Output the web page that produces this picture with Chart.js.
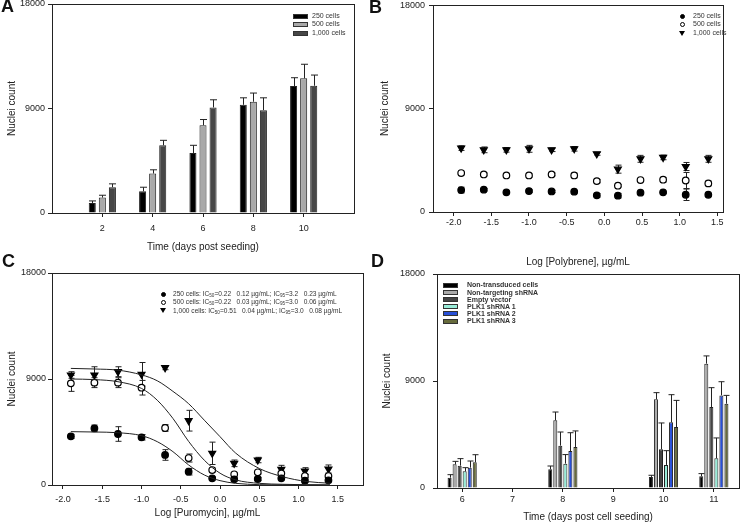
<!DOCTYPE html>
<html>
<head>
<title>Nuclei count panels</title>
<script src="https://cdn.jsdelivr.net/npm/chart.js"></script>
<style>
body { margin: 0; background: #fff; font-family: 'Liberation Sans', Arial, sans-serif; }
#fig { position: relative; width: 741px; height: 523px; overflow: hidden; }
#fig canvas { position: absolute; }
.tag { position: absolute; font-weight: bold; font-size: 18px; line-height: 18px; color: #111; }
.lt { position: absolute; white-space: pre; color: #333; }
.lt sub { font-size: 0.7em; vertical-align: -1px; line-height: 0; }
.mk { position: absolute; box-sizing: border-box; }
</style>
</head>
<body>
<div id="fig">
  <canvas id="cA" width="370" height="260" style="left:0;top:0"></canvas>
  <canvas id="cB" width="371" height="272" style="left:370px;top:0"></canvas>
  <canvas id="cC" width="370" height="263" style="left:0;top:260px"></canvas>
  <canvas id="cD" width="371" height="263" style="left:370px;top:260px"></canvas>
  <div class="tag" style="left:1px;top:-3px">A</div>
  <div class="tag" style="left:369px;top:-2px">B</div>
  <div class="tag" style="left:2px;top:252px">C</div>
  <div class="tag" style="left:371px;top:252px">D</div>
</div>
<script>
// shared y ticks
const yTicks = [0, 9000, 18000];

// A - cells seeded vs time
const daysA = [2, 4, 6, 8, 10];
const seriesA = ['250 cells', '500 cells', '1,000 cells'];
const a250 = [860, 1870, 5160, 9320, 10930];
const a500 = [1330, 3400, 7560, 9580, 11600];
const a1000 = [2220, 5830, 9090, 8860, 10960];
const a250Err = [180, 350, 670, 600, 720];
const a500Err = [200, 320, 490, 750, 1210];
const a1000Err = [290, 430, 660, 1060, 920];

// B / C - log dose
const logDose = [-1.9, -1.6, -1.3, -1.0, -0.7, -0.4, -0.1, 0.18, 0.48, 0.78, 1.08, 1.38];
const doseTicks = [-2.0, -1.5, -1.0, -0.5, 0.0, 0.5, 1.0, 1.5];

const b250 = [1910, 1940, 1710, 1820, 1790, 1770, 1450, 1420, 1680, 1710, 1500, 1500];
const b250Err = [250, 100, 100, 120, 100, 100, 150, 200, 100, 100, 500, 100];
const b500 = [3390, 3270, 3180, 3180, 3270, 3180, 2690, 2290, 2780, 2810, 2740, 2490];
const b500Err = [150, 120, 120, 130, 120, 200, 150, 100, 120, 200, 700, 200];
const b1000 = [5560, 5410, 5410, 5500, 5410, 5500, 5060, 3730, 4630, 4750, 3960, 4630];
const b1000Err = [200, 250, 200, 300, 150, 200, 120, 350, 300, 200, 350, 300];

const c250 = [4130, 4810, 4330, 4050, 2550, 1130, 570, 480, 510, 570, 370, 400];
const c250Err = [170, 280, 620, 230, 450, 280, 140, 140, 140, 140, 140, 140];
const c500 = [8630, 8690, 8690, 8260, 4840, 2290, 1270, 910, 1080, 990, 760, 760];
const c500Err = [680, 420, 420, 620, 280, 340, 170, 140, 140, 140, 140, 140];
const c1000 = [9340, 9340, 9620, 9400, 9960, 5460, 2690, 1840, 2120, 1330, 1190, 1360];
const c1000Err = [280, 700, 420, 1000, 170, 880, 950, 280, 230, 340, 280, 340];

// fitted curves
const fitX = [-1.9, -1.6, -1.3, -1.0, -0.8, -0.6, -0.4, -0.2, 0.0, 0.2, 0.5, 0.8, 1.1, 1.4];
const fit250 = [4530, 4500, 4440, 4190, 3680, 2830, 1700, 850, 370, 140, 30, 10, 5, 0];
const fit500 = [9000, 8950, 8770, 8200, 7200, 5650, 3700, 2100, 1000, 430, 140, 60, 20, 10];
const fit1000 = [9900, 9850, 9750, 9350, 8850, 7950, 6900, 5500, 4100, 2700, 1400, 700, 300, 150];

const cLabels = [
  '250 cells: IC<sub>50</sub>=0.22   0.12 µg/mL; IC<sub>95</sub>=3.2   0.23 µg/mL',
  '500 cells: IC<sub>50</sub>=0.22   0.03 µg/mL; IC<sub>95</sub>=3.0   0.06 µg/mL',
  '1,000 cells: IC<sub>50</sub>=0.51   0.04 µg/mL; IC<sub>95</sub>=3.0   0.08 µg/mL'
];

// D - shRNA knockdown
const daysD = ['6', '7', '8', '9', '10', '11'];
const seriesD = ['Non-transduced cells', 'Non-targeting shRNA', 'Empty vector', 'PLK1 shRNA 1', 'PLK1 shRNA 2', 'PLK1 shRNA 3'];
const dNon = [870, null, 1570, null, 930, 980];
const dNonErr = [250, null, 280, null, 140, 230];
const dNT = [1990, null, 5690, null, 7460, 10460];
const dNTErr = [250, null, 700, null, 560, 650];
const dEmpty = [1880, null, 3560, null, 3250, 6810];
const dEmptyErr = [590, null, 1150, null, 2220, 1630];
const dPlk1 = [1400, null, 2050, null, 1940, 2500];
const dPlk1Err = [310, null, 760, null, 1200, 1710];
const dPlk2 = [1710, null, 3110, null, 5520, 7790];
const dPlk2Err = [560, null, 1540, null, 2330, 1150];
const dPlk3 = [2160, null, 3450, null, 5130, 7090];
const dPlk3Err = [640, null, 1350, null, 2240, 700];

const ink = '#222';
Chart.defaults.font.family = "'Liberation Sans', Arial, sans-serif";
Chart.defaults.color = ink;

// error bars drawn from each dataset's err array
const errorBars = {
  id: 'errorBars',
  beforeDatasetsDraw(chart) {
    const ctx = chart.ctx;
    const ys = chart.scales.y;
    chart.data.datasets.forEach((ds, di) => {
      if (!ds.err) return;
      const meta = chart.getDatasetMeta(di);
      ctx.save();
      ctx.strokeStyle = ink;
      ctx.lineWidth = 1;
      meta.data.forEach((el, i) => {
        const raw = ds.data[i];
        const v = raw && typeof raw === 'object' ? raw.y : raw;
        const e = ds.err[i];
        if (v == null || e == null) return;
        const top = ys.getPixelForValue(v + e);
        const bot = ds.bothWays ? ys.getPixelForValue(v - e) : el.y;
        const x = Math.round(el.x) + 0.5;
        const c = ds.cap / 2;
        ctx.beginPath();
        ctx.moveTo(x, top); ctx.lineTo(x, bot);
        ctx.moveTo(x - c, top); ctx.lineTo(x + c, top);
        if (ds.bothWays) { ctx.moveTo(x - c, bot); ctx.lineTo(x + c, bot); }
        ctx.stroke();
      });
      ctx.restore();
    });
  }
};

// box around the plot area
const frame = {
  id: 'frame',
  afterDatasetsDraw(chart) {
    const a = chart.chartArea;
    const ctx = chart.ctx;
    ctx.save();
    ctx.strokeStyle = ink;
    ctx.lineWidth = 1;
    ctx.strokeRect(Math.round(a.left) + 0.5, Math.round(a.top) + 0.5,
      Math.round(a.right - a.left), Math.round(a.bottom - a.top));
    ctx.restore();
  }
};
Chart.register(errorBars, frame);

function yAxis(width, pad, titlePad) {
  return {
    min: 0, max: 18000,
    afterBuildTicks: s => { s.ticks = yTicks.map(v => ({ value: v })); },
    afterFit: s => { s.width = width; s.paddingTop = 0; s.paddingBottom = 0; },
    border: { color: ink },
    grid: { drawOnChartArea: false, tickLength: 4, color: ink },
    ticks: { padding: pad, font: { size: 9 }, callback: v => String(v) },
    title: { display: true, text: 'Nuclei count', font: { size: 10 }, padding: { top: titlePad, bottom: 0 } }
  };
}

function xLinear(min, max, tickVals, label, height, pad, titlePad, fmt) {
  return {
    type: 'linear', min: min, max: max, offset: false,
    afterBuildTicks: s => { s.ticks = tickVals.map(v => ({ value: v })); },
    afterFit: s => { s.height = height; s.paddingLeft = 0; s.paddingRight = 0; },
    border: { color: ink },
    grid: { drawOnChartArea: false, offset: false, tickLength: 4, color: ink },
    ticks: { padding: pad, font: { size: 9 }, maxRotation: 0, callback: fmt },
    title: { display: true, text: label, font: { size: 10 }, padding: { top: 0, bottom: titlePad } }
  };
}

const base = {
  responsive: false,
  animation: false,
  events: [],
  plugins: { legend: { display: false }, tooltip: { enabled: false } }
};

function barSet(label, xs, vals, err, color, cap) {
  return {
    label: label,
    data: xs ? xs.map((d, i) => ({ x: d, y: vals[i] })) : vals,
    err: err, cap: cap,
    backgroundColor: color, borderColor: ink, borderWidth: 1
  };
}

function dotSet(label, vals, err, style) {
  const s = {
    label: label,
    data: logDose.map((d, i) => ({ x: d, y: vals[i] })),
    err: err, cap: 6, bothWays: true,
    pointStyle: style === 'tri' ? 'triangle' : 'circle',
    rotation: style === 'tri' ? 180 : 0,
    pointRadius: style === 'tri' ? 4 : 3.3,
    pointBackgroundColor: style === 'ring' ? '#fff' : '#000',
    pointBorderColor: '#000', pointBorderWidth: 1.2,
    showLine: false
  };
  return s;
}

function fitSet(vals) {
  return {
    type: 'line',
    data: fitX.map((d, i) => ({ x: d, y: vals[i] })),
    borderColor: ink, borderWidth: 1, pointRadius: 0,
    cubicInterpolationMode: 'monotone', fill: false
  };
}

// A
new Chart(document.getElementById('cA'), {
  type: 'bar',
  data: { datasets: [
    barSet(seriesA[0], daysA, a250, a250Err, '#000000', 7),
    barSet(seriesA[1], daysA, a500, a500Err, '#a9a9a9', 7),
    barSet(seriesA[2], daysA, a1000, a1000Err, '#474747', 7)
  ] },
  options: Object.assign({}, base, {
    layout: { padding: { top: 4, right: 16, bottom: 0, left: 0 } },
    datasets: { bar: { categoryPercentage: 0.6, barPercentage: 0.7 } },
    scales: {
      x: xLinear(0, 12, daysA, 'Time (days post seeding)', 47, 6, 7, v => String(v)),
      y: yAxis(52, 3, 6)
    }
  })
});

// B
new Chart(document.getElementById('cB'), {
  type: 'scatter',
  data: { datasets: [
    dotSet(seriesA[0], b250, b250Err, 'dot'),
    dotSet(seriesA[1], b500, b500Err, 'ring'),
    dotSet(seriesA[2], b1000, b1000Err, 'tri')
  ] },
  options: Object.assign({}, base, {
    layout: { padding: { top: 4, right: 18, bottom: 0, left: 0 } },
    scales: {
      x: xLinear(-2.274, 1.575, doseTicks, 'Log [Polybrene], µg/mL', 60, 1, 4, v => v.toFixed(1)),
      y: yAxis(63, 4, 9)
    }
  })
});

// C
new Chart(document.getElementById('cC'), {
  type: 'scatter',
  data: { datasets: [
    fitSet(fit250), fitSet(fit500), fitSet(fit1000),
    dotSet(seriesA[0], c250, c250Err, 'dot'),
    dotSet(seriesA[1], c500, c500Err, 'ring'),
    dotSet(seriesA[2], c1000, c1000Err, 'tri')
  ] },
  options: Object.assign({}, base, {
    layout: { padding: { top: 13, right: 7, bottom: 0, left: 0 } },
    scales: {
      x: xLinear(-2.14, 1.82, doseTicks, 'Log [Puromycin], µg/mL', 38, 5, 4, v => v.toFixed(1)),
      y: yAxis(52, 2, 6)
    }
  })
});

// D
const dColors = ['#000000', '#aaaaaa', '#444444', '#98ecd8', '#2850d8', '#676b3c'];
const dVals = [dNon, dNT, dEmpty, dPlk1, dPlk2, dPlk3];
const dErrs = [dNonErr, dNTErr, dEmptyErr, dPlk1Err, dPlk2Err, dPlk3Err];
new Chart(document.getElementById('cD'), {
  type: 'bar',
  data: {
    labels: daysD,
    datasets: seriesD.map((s, i) => barSet(s, null, dVals[i], dErrs[i], dColors[i], 6))
  },
  options: Object.assign({}, base, {
    layout: { padding: { top: 14, right: 2, bottom: 0, left: 0 } },
    datasets: { bar: { categoryPercentage: 0.6, barPercentage: 0.8 } },
    scales: {
      x: {
        afterFit: s => { s.height = 35; s.paddingLeft = 0; s.paddingRight = 0; },
        border: { color: ink },
        grid: { drawOnChartArea: false, tickLength: 4, color: ink, offset: false },
        ticks: { padding: 2, font: { size: 9 }, maxRotation: 0 },
        title: { display: true, text: 'Time (days post cell seeding)', font: { size: 10 }, padding: { top: 0, bottom: 0 } }
      },
      y: yAxis(67, 8, 11)
    }
  })
});

// legends (html)
const fig = document.getElementById('fig');
function addLegend(items, o) {
  items.forEach((it, i) => {
    const cy = o.y + i * o.pitch;
    const m = document.createElement('div');
    m.className = 'mk';
    if (it.kind === 'box') {
      m.style.cssText = `left:${o.mx}px;top:${cy - o.bh / 2}px;width:${o.bw}px;height:${o.bh}px;background:${it.color};border:1px solid #333`;
    } else if (it.kind === 'tri') {
      m.style.cssText = `left:${o.mx - 3}px;top:${cy - 2.5}px;width:0;height:0;border-left:3px solid transparent;border-right:3px solid transparent;border-top:5px solid #000`;
    } else {
      m.style.cssText = `left:${o.mx - 2.5}px;top:${cy - 2.5}px;width:5px;height:5px;border-radius:50%;border:1.2px solid #000;background:${it.kind === 'ring' ? '#fff' : '#000'}`;
    }
    fig.appendChild(m);
    const t = document.createElement('div');
    t.className = 'lt';
    t.style.cssText = `left:${o.tx}px;top:${cy - o.pitch / 2}px;font-size:${o.fs}px;line-height:${o.pitch}px;font-weight:${it.bold ? 'bold' : 'normal'}`;
    t.innerHTML = it.label;
    fig.appendChild(t);
  });
}

const boxA = ['#000000', '#a9a9a9', '#474747'];
addLegend(seriesA.map((s, i) => ({ label: s, kind: 'box', color: boxA[i] })),
  { mx: 293, tx: 312, y: 16.2, pitch: 8.4, bw: 15, bh: 5, fs: 7 });
const kinds = ['dot', 'ring', 'tri'];
addLegend(seriesA.map((s, i) => ({ label: s, kind: kinds[i] })),
  { mx: 682, tx: 693, y: 16.2, pitch: 8.4, fs: 7 });
addLegend(cLabels.map((s, i) => ({ label: s, kind: kinds[i] })),
  { mx: 163, tx: 173, y: 294.3, pitch: 8.2, fs: 6.6 });
addLegend(seriesD.map((s, i) => ({ label: s, kind: 'box', color: dColors[i], bold: true })),
  { mx: 443, tx: 467, y: 285, pitch: 7.2, bw: 15, bh: 5, fs: 7 });
</script>
</body>
</html>
